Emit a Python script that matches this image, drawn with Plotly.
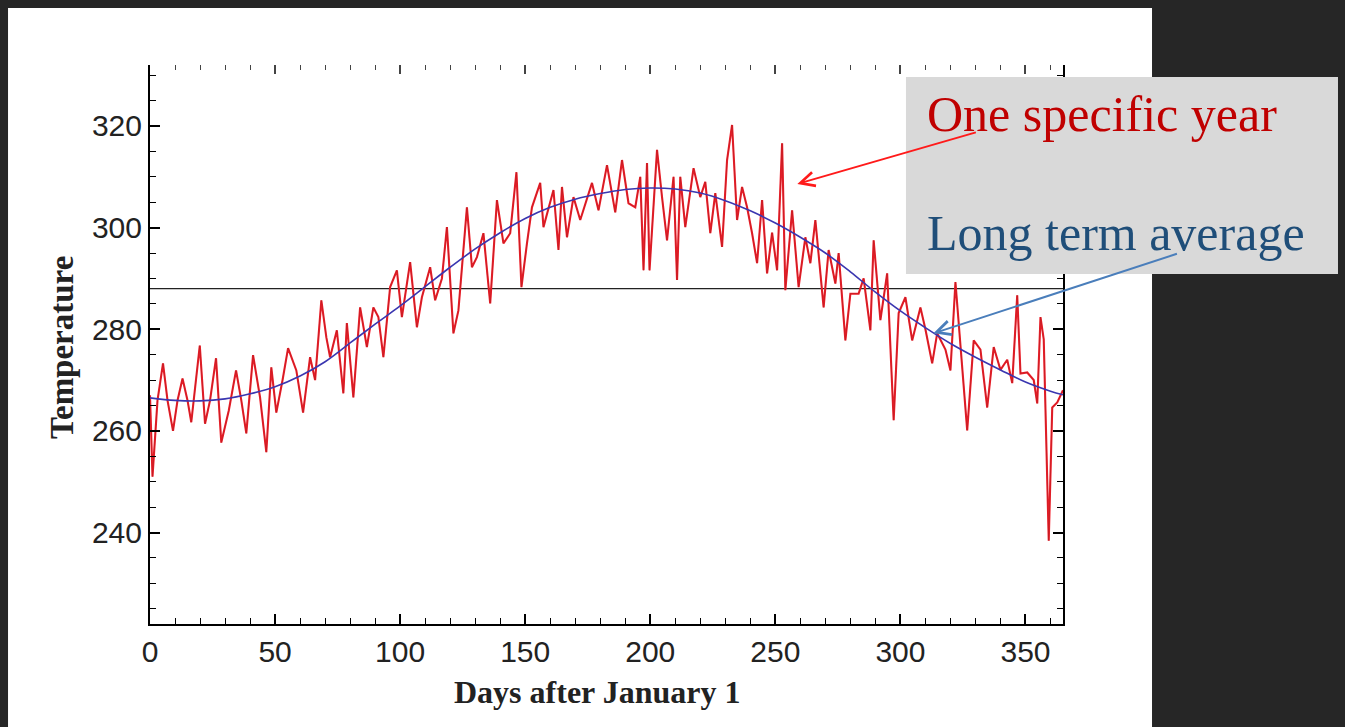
import plotly.graph_objects as go

# ---- data ----
year_days = [0, 1, 3, 5.2, 7, 9.2, 11, 13, 15, 16.5, 19.9, 22, 24, 26.4, 28.5, 31.5, 34.4, 36.5, 38.5,
             41.2, 44, 46.5, 48.5, 50.5, 53, 55.2, 58.5, 61.2, 64, 66, 68.5, 70.5, 72, 74.7, 77.3,
             78.7, 81.3, 84, 86.7, 89.3, 91.3, 93.3, 96, 98.7, 100.7, 104, 106.7, 108.7, 112, 114,
             116.7, 118.7, 121.3, 123.3, 126.7, 128.7, 130.7, 133.3, 136, 138.7, 141.3, 144, 146.5,
             148.5, 150.7, 152.7, 156, 157.3, 161.3, 163.3, 164.7, 166.7, 169.3, 172, 176.7, 179.3,
             182.7, 186, 188.7, 191.3, 194, 196, 197.3, 198.7, 199.7, 202.7, 204.7, 206.7, 209.3,
             210.7, 212, 214, 217.3, 220, 222, 224, 226, 228.7, 230.7, 232.7, 234.7, 236.7, 238.7,
             240.7, 242.7, 244.7, 246.7, 248.7, 250.7, 252.7, 254, 256.7, 259.3, 262, 264, 266,
             269.3, 271.3, 274, 275.3, 278, 280, 283.3, 285.3, 288, 289.3, 292, 294.7, 297.3, 299.3,
             302, 304.7, 308, 310, 312.7, 314.7, 318, 320, 322, 324, 326.7, 329.3, 332, 334.7, 337.3,
             340, 342.7, 344.7, 346.7, 348, 350.7, 353.3, 354.7, 356, 357.3, 359.3, 360.7, 362.7, 365]
year_temp = [267, 251, 266, 273.3, 266, 260, 266, 270.3, 266, 261.7, 276.8, 261.4, 266, 274.3, 257.7,
             264, 271.9, 266, 259.5, 274.9, 266.6, 255.8, 272.5, 263.6, 270, 276.3, 271.9, 263.6,
             274.5, 270, 285.7, 278.4, 274.5, 279.8, 267.4, 281.2, 266.6, 284.3, 276.5, 284.3, 282.4,
             274.5, 288.3, 291.6, 282.4, 293.2, 280.4, 286.3, 292.2, 285.7, 290, 300.1, 279.2, 283.7,
             304, 292.2, 294.2, 298.9, 285.1, 305.4, 296.9, 298.9, 310.9, 288.3, 296.9, 304, 308.8,
             300.1, 307.4, 295.6, 308, 298.1, 306, 301.5, 308.8, 303.4, 312.3, 303, 313.3, 304.8, 304,
             310, 291.6, 312.7, 291.6, 315.3, 306, 297.5, 310, 289.7, 310, 300.1, 311.7, 306, 309,
             298.9, 306.8, 296.2, 313.3, 320.2, 301.5, 308, 304, 298.9, 293, 305.4, 291, 299, 291.6,
             316.6, 287.7, 303.4, 288.3, 298.1, 293, 301.5, 284.3, 295.6, 289, 295, 277.8, 287, 287,
             290, 279.8, 297.5, 281.8, 291, 262.1, 283.2, 286.3, 277.8, 284.3, 280, 273.3, 279.2, 276,
             271.9, 289.3, 276.5, 260.1, 277.8, 276, 264.6, 276.5, 272, 274, 269.4, 286.7, 271.3,
             271.5, 270, 265.4, 282.4, 278, 238.4, 264.6, 265.6, 268]

avg_days = [0, 10, 20, 30, 40, 50, 60, 70, 80, 90, 100, 110, 120, 130, 140, 150, 160, 170, 180, 190,
            200, 210, 220, 230, 240, 250, 260, 270, 280, 290, 300, 310, 320, 330, 340, 350, 360, 365]
avg_temp = [266.5, 266.0, 265.9, 266.3, 267.3, 268.7, 270.8, 273.6, 277.3, 281.0, 284.6, 288.4, 292.2,
            295.8, 299.0, 301.8, 304.0, 305.6, 306.7, 307.5, 307.8, 307.6, 306.8, 305.3, 303.3, 300.9,
            298.1, 295.0, 291.3, 287.3, 283.6, 280.3, 277.2, 274.5, 272.0, 269.6, 267.8, 267.1]

global_mean = 288
x_ticks = [0, 50, 100, 150, 200, 250, 300, 350]
y_ticks = [240, 260, 280, 300, 320]

fig = go.Figure()
fig.add_trace(go.Scatter(x=[0, 365], y=[global_mean, global_mean], mode="lines",
                         line=dict(color="#222222", width=1.3), hoverinfo="skip", showlegend=False))
fig.add_trace(go.Scatter(x=year_days, y=year_temp, mode="lines",
                         line=dict(color="#f2202c", width=2.1), showlegend=False))
fig.add_trace(go.Scatter(x=year_days, y=year_temp, mode="lines",
                         line=dict(color="#9a1a1a", width=0.7), opacity=0.6, showlegend=False))
fig.add_trace(go.Scatter(x=avg_days, y=avg_temp, mode="lines", line_shape="spline",
                         line=dict(color="#3a36b0", width=1.6), showlegend=False))
fig.add_trace(go.Scatter(x=[None], y=[None], xaxis="x2", showlegend=False, hoverinfo="skip"))

tickfont = dict(family="Liberation Sans", size=30, color="#222222")
fig.update_layout(
    width=1345, height=727,
    paper_bgcolor="#262626", plot_bgcolor="white",
    margin=dict(l=150, r=282, t=65, b=103),
    xaxis=dict(range=[0, 365], tickvals=x_ticks, ticks="inside", ticklen=10, tickwidth=1.6,
               tickcolor="black", showline=True, linecolor="black", linewidth=2,
               showgrid=False, zeroline=False, tickfont=tickfont,
               minor=dict(dtick=10, tick0=0, ticks="inside", ticklen=6, tickcolor="black",
                          tickwidth=1.4, showgrid=False)),
    xaxis2=dict(range=[0, 365], overlaying="x", side="top", tickvals=x_ticks, ticks="inside",
                ticklen=9, tickwidth=1.6, tickcolor="#444444", showline=False, showgrid=False,
                zeroline=False, showticklabels=False, matches="x",
                minor=dict(dtick=10, tick0=0, ticks="inside", ticklen=5, tickcolor="#444444",
                           tickwidth=1.4, showgrid=False)),
    yaxis=dict(range=[222, 332], tickvals=y_ticks, ticks="inside", ticklen=10, tickwidth=1.6,
               tickcolor="black", showline=True, linecolor="black", linewidth=2, mirror="ticks",
               showgrid=False, zeroline=False, tickfont=tickfont,
               minor=dict(dtick=5, tick0=0, ticks="inside", ticklen=6, tickcolor="black",
                          tickwidth=1.4, showgrid=False)),
    shapes=[
        dict(type="rect", xref="paper", yref="paper", x0=-0.1555, x1=1.0975, y0=-0.25, y1=1.102,
             fillcolor="white", line=dict(width=0), layer="below"),
        dict(type="rect", xref="paper", yref="paper", x0=0.828, x1=1.3012, y0=0.6261, y1=0.9785,
             fillcolor="#d9d9d9", line=dict(width=0), layer="above"),
    ],
    annotations=[
        dict(text="Days after January 1", xref="paper", yref="paper", x=0.4896, y=-0.1216,
             xanchor="center", yanchor="middle", showarrow=False,
             font=dict(family="Liberation Serif", size=32, color="#222222", weight="bold")),
        dict(text="Temperature", xref="paper", yref="paper", x=-0.0964, y=0.4955, textangle=-90,
             xanchor="center", yanchor="middle", showarrow=False,
             font=dict(family="Liberation Serif", size=33, color="#222222", weight="bold")),
        dict(text="One specific year", xref="paper", yref="paper", x=0.8489, y=0.912,
             xanchor="left", yanchor="middle", showarrow=False,
             font=dict(family="Liberation Serif", size=50, color="#c00000")),
        dict(text="Long term average", xref="paper", yref="paper", x=0.8489, y=0.699,
             xanchor="left", yanchor="middle", showarrow=False,
             font=dict(family="Liberation Serif", size=50, color="#1f4e79")),
        dict(text="", x=258.8, y=308.6, xref="x", yref="y", ax=180, ay=-52, axref="pixel",
             ayref="pixel", showarrow=True, arrowhead=5, arrowsize=1.4, arrowwidth=2,
             arrowcolor="#ff1a1a", standoff=0),
        dict(text="", x=313.2, y=279.2, xref="x", yref="y", ax=245, ay=-80, axref="pixel",
             ayref="pixel", showarrow=True, arrowhead=5, arrowsize=1.4, arrowwidth=2,
             arrowcolor="#4a7ebb", standoff=0),
    ],
)

fig.write_html(
    "out.html",
    config={"displayModeBar": False},
    post_script="document.body.style.margin='0';document.body.style.padding='0';"
                "document.body.style.background='#262626';document.body.style.overflow='hidden';",
)
